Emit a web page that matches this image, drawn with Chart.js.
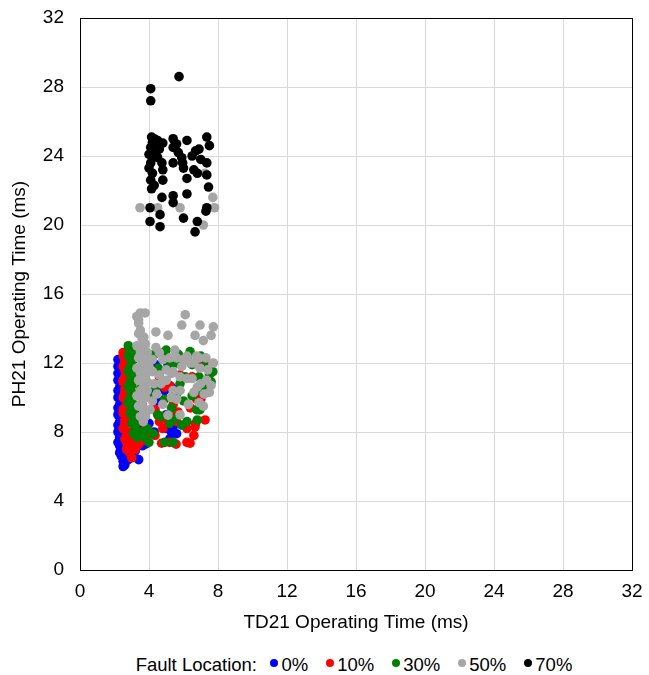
<!DOCTYPE html>
<html>
<head>
<meta charset="utf-8">
<script src="https://cdn.jsdelivr.net/npm/chart.js@4/dist/chart.umd.min.js"></script>
<style>
  body { margin: 0; background: #fff; font-family: "Liberation Sans", Arial, sans-serif; }
  #wrap { position: absolute; left: 0; top: 0; width: 649px; height: 640px; }
  #legend { position: absolute; left: 78px; top: 654px; width: 552px; text-align: center;
            font-size: 18.5px; color: #000; white-space: nowrap; }
  #legend span.item { margin-left: 18px; }
  #legend span.item:first-child { margin-left: 13.5px; }
  #legend i { display: inline-block; width: 8px; height: 8px; border-radius: 50%;
              margin-right: 3px; vertical-align: 4px; }
</style>
</head>
<body>
<div id="wrap"><canvas id="scatter"></canvas></div>
<div id="legend"></div>
<script>
// Operating times (TD21 ms, PH21 ms) per fault location
const faultLabels = ['0%', '10%', '30%', '50%', '70%'];
const faultColors = ['#0000ff', '#ff0000', '#008000', '#a6a6a6', '#000000'];
const axisTicks = [0, 4, 8, 12, 16, 20, 24, 28, 32];

const fault0 = [
    [2.2, 12.2], [2.3, 12.0], [2.2, 11.8], [2.4, 11.6], [2.2, 11.4], [2.3, 11.2], [2.2, 11.0],
    [2.4, 10.8], [2.3, 10.6], [2.2, 10.4], [2.3, 10.2], [2.2, 10.0], [2.4, 9.8], [2.3, 9.6],
    [2.2, 9.4], [2.3, 9.2], [2.2, 9.0], [2.4, 8.8], [2.3, 8.6], [2.2, 8.4], [2.3, 8.2],
    [2.2, 8.0], [2.4, 7.8], [2.3, 7.6], [2.2, 7.4], [2.3, 7.2], [2.4, 7.0], [2.3, 6.8],
    [2.4, 6.6], [2.5, 6.3], [2.6, 6.1], [2.5, 6.0], [2.7, 8.5], [2.6, 9.5], [2.6, 11.5],
    [2.9, 7.2], [3.1, 7.1], [3.4, 6.4], [3.6, 7.2], [3.8, 7.3], [3.9, 7.9], [3.2, 8.2],
    [4.0, 8.5], [4.1, 10.3], [4.4, 11.9], [4.7, 10.9], [5.1, 11.9], [5.3, 10.6], [5.3, 8.0],
    [5.4, 8.3], [5.6, 7.9], [5.6, 10.4], [5.0, 9.0], [4.5, 9.8], [3.5, 9.0],
    [2.3, 11.7], [2.4, 11.3], [2.3, 10.9], [2.4, 10.5], [2.3, 10.1], [2.4, 9.7], [2.3, 9.3],
    [2.4, 8.9], [2.3, 8.5], [2.4, 8.1], [2.3, 7.7], [2.4, 7.3], [2.5, 6.9], [2.5, 6.5],
    [2.6, 7.5], [2.7, 6.7], [2.8, 6.4], [2.9, 7.6], [3.2, 6.9], [3.6, 8.1], [4.3, 8.0],
    [5.2, 7.6], [4.9, 10.4], [5.0, 8.2]
];

const fault10 = [
    [2.5, 12.4], [2.6, 12.1], [2.5, 11.8], [2.7, 11.5], [2.6, 11.2], [2.5, 10.9], [2.7, 10.6],
    [2.6, 10.3], [2.5, 10.0], [2.7, 9.7], [2.6, 9.4], [2.5, 9.1], [2.7, 8.8], [2.6, 8.5],
    [2.5, 8.2], [2.7, 7.9], [2.6, 7.6], [2.8, 7.3], [2.7, 7.0], [2.9, 6.8], [3.0, 6.5],
    [2.9, 7.8], [3.1, 7.5], [3.3, 7.9], [3.5, 7.7], [3.2, 8.6], [2.9, 9.3], [3.0, 10.8],
    [2.9, 12.0], [3.8, 8.2], [4.35, 9.3], [4.35, 7.8], [4.73, 7.35], [4.9, 10.6], [5.2, 10.7],
    [5.1, 8.6], [5.5, 8.9], [5.68, 9.16], [5.57, 7.3], [6.2, 8.2], [6.38, 7.35], [6.67, 8.3],
    [6.7, 8.5], [6.76, 9.9], [6.76, 12.0], [6.5, 11.2], [5.9, 12.0], [5.4, 9.6], [6.9, 9.3],
    [7.25, 8.7], [4.8, 8.2], [3.6, 9.6],
    [2.5, 12.6], [2.6, 11.6], [2.5, 11.0], [2.6, 10.5], [2.7, 9.9], [2.5, 9.3], [2.6, 8.7],
    [2.8, 8.0], [2.7, 7.4], [2.8, 6.9], [3.0, 7.2], [3.2, 7.0], [3.4, 7.3], [3.7, 7.5],
    [4.0, 7.9], [4.6, 8.6], [5.2, 7.4], [6.2, 7.4], [6.6, 7.8], [5.6, 8.6], [6.4, 9.4],
    [7.0, 9.9], [5.8, 11.3], [7.2, 12.1], [4.6, 11.2]
];

const fault30 = [
    [2.8, 13.0], [2.9, 12.7], [2.8, 12.4], [3.0, 12.1], [2.9, 11.8], [2.8, 11.5], [3.0, 11.2],
    [2.9, 10.9], [2.8, 10.6], [3.0, 10.3], [2.9, 10.0], [2.8, 9.7], [3.0, 9.4], [2.9, 9.1],
    [3.1, 8.8], [3.0, 8.5], [3.2, 8.2], [3.1, 7.9], [3.3, 7.7], [3.5, 8.0], [3.4, 8.6],
    [3.6, 8.8], [3.3, 9.5], [3.5, 10.5], [3.2, 11.5], [3.4, 12.5], [3.6, 12.8], [3.8, 11.0],
    [4.1, 10.0], [4.0, 7.4], [4.25, 7.9], [4.54, 11.7], [4.7, 8.9], [4.9, 9.9], [4.9, 7.4],
    [5.0, 12.75], [5.2, 11.8], [5.4, 7.4], [5.6, 12.0], [5.8, 10.8], [5.9, 8.4], [6.1, 11.2],
    [6.38, 12.66], [6.5, 11.9], [6.76, 9.3], [6.96, 10.4], [6.96, 9.3], [7.0, 12.4], [7.2, 11.8],
    [7.5, 11.3], [7.7, 11.5], [7.4, 10.6], [6.8, 8.7], [5.3, 9.4], [4.4, 10.6], [4.9, 12.2],
    [6.0, 9.8], [5.5, 8.8],
    [2.85, 12.9], [3.0, 12.6], [3.1, 12.2], [2.9, 11.6], [3.1, 11.0], [3.0, 10.7], [3.1, 10.1],
    [3.0, 9.8], [3.1, 9.2], [3.2, 8.6], [3.3, 8.1], [3.4, 7.8], [3.7, 7.7], [3.9, 8.2],
    [3.8, 9.2], [3.7, 12.2], [4.3, 12.5], [4.8, 12.6], [5.7, 12.5], [6.2, 12.3], [6.9, 11.2],
    [7.6, 10.9], [5.2, 8.5], [6.2, 8.6], [6.5, 10.1], [4.5, 9.0], [5.6, 10.2]
];

const fault50 = [
    [3.29, 14.7], [3.5, 14.9], [3.77, 14.9], [3.4, 14.5], [3.4, 13.7], [3.6, 13.4], [3.3, 13.0],
    [3.5, 12.7], [3.4, 12.3], [3.6, 12.0], [3.3, 11.7], [3.5, 11.4], [3.4, 11.0], [3.7, 10.7],
    [3.5, 10.4], [3.3, 10.1], [3.6, 9.8], [3.4, 9.5], [3.7, 9.2], [3.5, 8.9], [3.67, 8.6],
    [3.9, 12.6], [4.0, 11.8], [3.9, 10.9], [4.06, 9.3], [4.2, 12.2], [4.4, 13.8], [4.45, 10.2],
    [4.6, 12.6], [4.6, 11.3], [5.0, 11.0], [5.0, 11.6], [5.1, 13.6], [5.1, 8.98], [5.3, 10.0],
    [5.5, 12.75], [5.6, 9.9], [5.8, 10.4], [5.8, 9.0], [5.9, 14.2], [6.1, 14.8], [6.2, 11.1],
    [6.28, 9.6], [6.4, 12.0], [6.6, 10.3], [6.67, 13.6], [6.76, 12.4], [6.96, 14.2], [6.96, 11.7],
    [7.15, 13.3], [7.15, 9.5], [7.34, 11.0], [7.5, 10.3], [7.6, 13.6], [7.73, 14.1], [7.73, 12.0],
    [7.0, 10.8], [5.4, 11.5], [6.0, 12.2], [4.8, 9.6], [7.6, 10.7],
    [3.4, 14.3], [3.5, 13.9], [3.7, 13.5], [3.8, 13.1], [3.5, 12.5], [3.8, 12.4], [3.6, 11.6],
    [3.8, 11.3], [3.6, 11.1], [3.9, 10.4], [3.8, 10.0], [3.6, 9.5], [3.8, 8.9], [4.0, 12.2],
    [4.2, 11.5], [4.3, 10.8], [4.2, 9.8], [4.4, 12.9], [4.8, 12.2], [5.2, 12.3], [5.3, 11.4],
    [5.6, 12.3], [5.9, 11.8], [6.2, 12.4], [6.6, 12.0], [6.9, 12.3], [7.3, 12.3], [7.4, 11.6],
    [6.5, 11.1], [5.8, 11.2], [6.8, 10.6], [7.2, 10.2], [6.9, 9.7], [5.4, 10.4], [4.7, 10.8],
    [3.48, 21.0], [4.5, 21.0], [5.8, 21.0], [7.7, 21.6], [7.8, 21.0], [7.15, 20.0], [7.25, 23.0]
];

const fault70 = [
    [5.74, 28.6], [4.1, 27.9], [4.1, 27.2], [4.15, 25.1], [4.2, 24.8], [4.1, 24.5], [4.3, 24.3],
    [4.0, 24.1], [4.2, 23.9], [4.1, 23.6], [4.4, 24.6], [4.3, 25.0], [4.0, 23.3], [4.2, 23.0],
    [4.1, 22.6], [4.3, 22.3], [4.15, 22.1], [4.5, 24.9], [4.6, 24.4], [4.5, 23.9], [4.8, 24.75],
    [5.4, 25.0], [6.2, 24.9], [7.35, 25.1], [7.5, 24.6], [5.4, 24.5], [6.9, 24.4], [5.4, 23.6],
    [5.95, 23.6], [6.5, 24.0], [7.0, 23.8], [7.35, 23.6], [4.75, 23.6], [4.8, 23.2], [6.0, 23.3],
    [7.35, 22.9], [6.2, 22.7], [6.8, 23.0], [4.8, 22.6], [7.45, 22.2], [4.75, 21.6], [5.4, 21.7],
    [6.2, 21.8], [5.4, 21.3], [4.06, 21.0], [7.35, 21.0], [7.3, 20.8], [4.64, 20.6], [6.0, 20.4],
    [4.06, 20.2], [4.64, 19.9], [6.8, 20.2], [6.67, 19.6], [5.6, 24.7], [6.7, 24.3], [5.7, 24.2],
    [4.4, 24.2], [6.6, 23.2], [5.9, 23.9]
];

const faultSeries = [fault0, fault10, fault30, fault50, fault70];

// draws the black frame round the plot area
const frame = {
    id: 'frame',
    afterDraw(chart) {
        const a = chart.chartArea;
        const ctx = chart.ctx;
        ctx.save();
        ctx.strokeStyle = '#000';
        ctx.lineWidth = 1;
        ctx.strokeRect(Math.round(a.left) + 0.5, Math.round(a.top) + 0.5,
            Math.round(a.right - a.left), Math.round(a.bottom - a.top));
        ctx.restore();
    }
};

const fontFamily = '"Liberation Sans", Arial, sans-serif';

function axisOptions(title, isX) {
    return {
        type: 'linear',
        min: 0,
        max: 32,
        afterBuildTicks: (scale) => { scale.ticks = axisTicks.map(v => ({ value: v })); },
        afterFit: (scale) => {
            // fixed axis boxes; the layout padding alone sets the plot edges
            if (isX) scale.height = 70; else scale.width = 80;
            scale.paddingTop = 0;
            scale.paddingBottom = 0;
            scale.paddingLeft = 0;
            scale.paddingRight = 0;
        },
        grid: { color: '#d9d9d9', drawTicks: false },
        border: { display: false },
        ticks: {
            color: '#000',
            padding: isX ? 10 : 16,
            font: { family: fontFamily, size: 19 }
        },
        title: {
            display: true,
            text: title,
            color: '#000',
            padding: isX ? { top: 0, bottom: 6 } : { top: 8, bottom: 0 },
            font: { family: fontFamily, size: 19 }
        }
    };
}

function createScatter() {
    const ctx = document.getElementById('scatter').getContext('2d');
    return new Chart(ctx, {
        type: 'scatter',
        data: {
            // later fault locations are drawn on top of earlier ones
            datasets: faultSeries.map((pts, i) => ({
                label: faultLabels[i],
                data: pts.map(p => ({ x: p[0], y: p[1] })),
                order: faultSeries.length - i,
                backgroundColor: faultColors[i],
                borderColor: faultColors[i],
                pointRadius: 4.8,
                pointBorderWidth: 0,
                pointHoverRadius: 4.8
            }))
        },
        options: {
            responsive: true,
            maintainAspectRatio: false,
            animation: false,
            layout: { padding: { left: 0, right: 17, top: 18, bottom: 0 } },
            plugins: {
                legend: { display: false },
                tooltip: { enabled: false }
            },
            scales: {
                x: axisOptions('TD21 Operating Time (ms)', true),
                y: axisOptions('PH21 Operating Time (ms)', false)
            }
        },
        plugins: [frame]
    });
}

function buildLegend() {
    const box = document.getElementById('legend');
    let html = 'Fault Location:';
    faultLabels.forEach((label, i) => {
        html += '<span class="item"><i style="background:' + faultColors[i] + '"></i>' + label + '</span>';
    });
    box.innerHTML = html;
}

window.onload = function () {
    createScatter();
    buildLegend();
};
</script>
</body>
</html>
